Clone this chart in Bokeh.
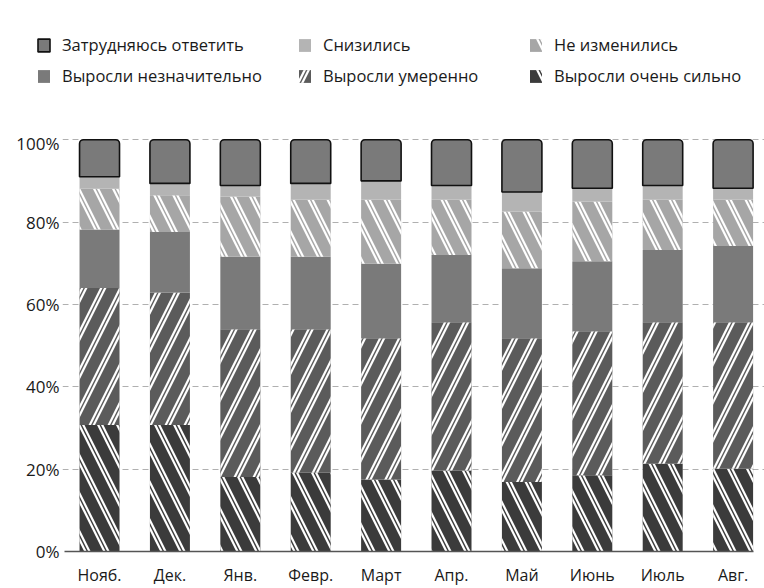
import numpy as np
from bokeh.plotting import figure
from bokeh.models import ColumnDataSource, Range1d, FixedTicker, Legend, LegendItem
from bokeh.embed import file_html
from bokeh.resources import INLINE

months = ["Нояб.", "Дек.", "Янв.", "Февр.", "Март", "Апр.", "Май", "Июнь", "Июль", "Авг."]

very_strong = [30.7, 30.7, 18.1, 19.1, 17.5, 19.7, 16.9, 18.5, 21.3, 20.1]
moderate    = [33.3, 32.2, 35.9, 34.9, 34.3, 36.0, 34.9, 35.0, 34.4, 35.6]
slight      = [14.2, 14.7, 17.6, 17.6, 18.1, 16.3, 17.0, 17.0, 17.5, 18.5]
unchanged   = [9.9, 8.9, 14.6, 13.8, 15.5, 13.4, 13.8, 14.5, 12.2, 11.2]
decreased   = [2.9, 2.9, 2.7, 4.0, 4.6, 3.5, 4.7, 3.2, 3.5, 2.8]
hard_to_say = [9.0, 10.6, 11.1, 10.6, 10.0, 11.1, 12.7, 11.8, 11.1, 11.8]

series_names = ["Выросли очень сильно", "Выросли умеренно", "Выросли незначительно",
                "Не изменились", "Снизились", "Затрудняюсь ответить"]

y_ticks = [0, 20, 40, 60, 80, 100]
y_tick_labels = ["0%", "20%", "40%", "60%", "80%", "100%"]

FONT = "Open Sans"
n = len(months)
xs = list(range(n))

layers = np.array([very_strong, moderate, slight, unchanged, decreased, hard_to_say])
tops = np.cumsum(layers, axis=0)
bottoms = tops - layers

BW = 0.568
styles = [
    dict(fill="#3b3b3b", hatch="\\"),
    dict(fill="#5b5b5b", hatch="/"),
    dict(fill="#7a7a7a", hatch=None),
    dict(fill="#a6a6a6", hatch="\\"),
    dict(fill="#b4b4b4", hatch=None),
    dict(fill="#7a7a7a", hatch=None),
]

HATCH_SCALE = 38


def draw_layer(fig, i, src):
    st = styles[i]
    rs = []
    if i == 5:
        rs.append(fig.vbar(x="x", bottom="bottom", top="top", width=BW, source=src,
                           fill_color=st["fill"], line_color="#111111", line_width=1.6,
                           border_radius=(4, 4, 0, 0)))
    elif st["hatch"] is None:
        rs.append(fig.vbar(x="x", bottom="bottom", top="top", width=BW, source=src,
                           fill_color=st["fill"], line_color=None))
    else:
        rs.append(fig.vbar(x="x", bottom="bottom", top="top", width=BW, source=src,
                           fill_color=st["fill"], line_color=None,
                           hatch_pattern=st["hatch"], hatch_color="white",
                           hatch_weight=5.8, hatch_scale=HATCH_SCALE))
        rs.append(fig.vbar(x="x", bottom="bottom", top="top", width=BW, source=src,
                           fill_color=None, line_color=None,
                           hatch_pattern=st["hatch"], hatch_color=st["fill"],
                           hatch_weight=1.4, hatch_scale=HATCH_SCALE))
    return rs


# ---- main chart ----
p = figure(width=764, height=457, output_backend="svg", toolbar_location=None,
           x_range=Range1d(-0.526, n - 0.554), y_range=Range1d(0, 102),
           min_border_left=62, min_border_right=0, min_border_top=0, min_border_bottom=31)
p.outline_line_color = None

for i in range(len(styles)):
    src = ColumnDataSource(dict(x=xs, bottom=bottoms[i], top=tops[i]))
    draw_layer(p, i, src)

p.xgrid.visible = False
p.ygrid.ticker = FixedTicker(ticks=y_ticks)
p.ygrid.grid_line_color = "#b0b0b0"
p.ygrid.grid_line_dash = "6 4"
p.ygrid.grid_line_width = 1

p.yaxis.ticker = FixedTicker(ticks=y_ticks)
p.yaxis.major_label_overrides = dict(zip(y_ticks, y_tick_labels))
p.yaxis.axis_line_color = None
p.yaxis.major_tick_line_color = None
p.yaxis.minor_tick_line_color = None
p.yaxis.major_label_standoff = -3
p.yaxis.major_label_text_font = FONT
p.yaxis.major_label_text_font_size = "17px"
p.yaxis.major_label_text_color = "#1a1a1a"

p.xaxis.ticker = FixedTicker(ticks=xs)
p.xaxis.major_label_overrides = dict(zip(xs, months))
p.xaxis.axis_line_color = "#555555"
p.xaxis.axis_line_width = 1.5
p.xaxis.bounds = (-0.5, n - 0.71)
p.xaxis.major_tick_line_color = None
p.xaxis.minor_tick_line_color = None
p.xaxis.major_label_standoff = 6
p.xaxis.major_label_text_font = FONT
p.xaxis.major_label_text_font_size = "16px"
p.xaxis.major_label_text_color = "#1a1a1a"

# ---- legend strip above ----
top = figure(width=764, height=131, output_backend="svg", toolbar_location=None,
             x_range=Range1d(0, 1), y_range=Range1d(0, 1),
             min_border=0, x_axis_location=None, y_axis_location=None)
top.outline_line_color = None
top.grid.visible = False

legend_renderers = []
for i in range(len(styles)):
    # a single bar placed outside the visible range: only its legend icon shows
    dummy = ColumnDataSource(dict(x=[-10], bottom=[-3], top=[-2]))
    legend_renderers.append(draw_layer(top, i, dummy))

columns = [(5, 2, 36), (4, 1, 297), (3, 0, 528)]
for top_i, bot_i, xloc in columns:
    leg = Legend(items=[LegendItem(label=series_names[top_i], renderers=legend_renderers[top_i]),
                        LegendItem(label=series_names[bot_i], renderers=legend_renderers[bot_i])],
                 location=(xloc, 44), orientation="vertical",
                 glyph_width=15, glyph_height=16, label_height=22, spacing=8,
                 padding=0, margin=0, border_line_color=None, background_fill_alpha=0,
                 label_standoff=11, label_text_font=FONT, label_text_font_size="16.5px",
                 label_text_color="#1a1a1a")
    top.add_layout(leg, "center")

open("out.html", "w").write(file_html([top, p], INLINE))
